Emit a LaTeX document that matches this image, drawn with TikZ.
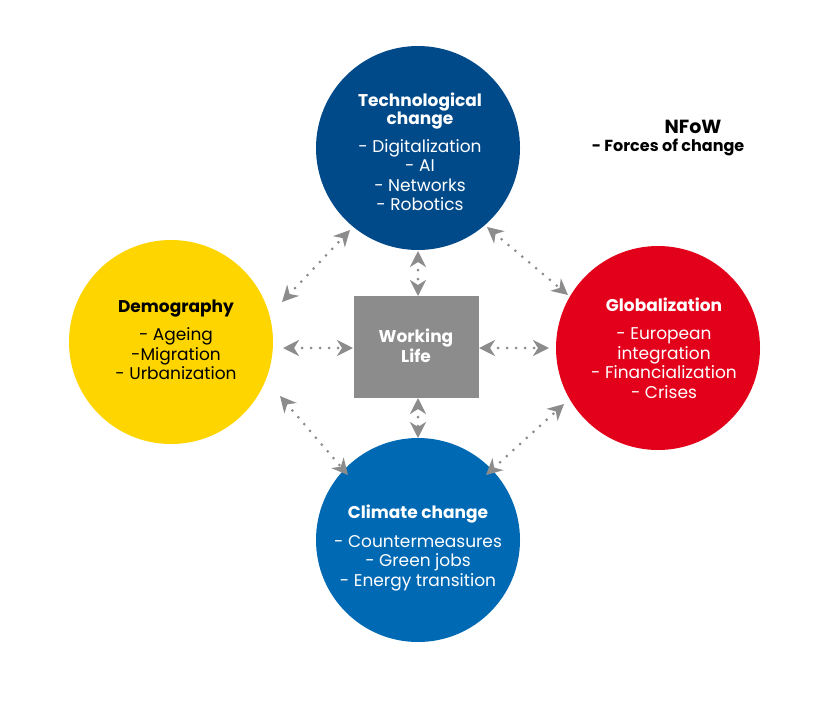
\documentclass[tikz,border=0pt]{standalone}
\usepackage{fontspec}
\setmainfont{Poppins}
\usetikzlibrary{arrows.meta}
\definecolor{cTop}{HTML}{004A8A}
\definecolor{cBot}{HTML}{0069B4}
\definecolor{cYel}{HTML}{FFD500}
\definecolor{cRed}{HTML}{E2001A}
\definecolor{cGr}{HTML}{8C8C8C}
\begin{document}
\begin{tikzpicture}[x=1pt,y=-1pt,
  circ/.style={circle,minimum size=204pt,inner sep=0pt},
  txt/.style={align=center,font=\fontsize{17}{19.5}\selectfont},
  link/.style={cGr,line width=3pt,dash pattern=on 0pt off 9pt,line cap=round,
     {Stealth[length=16pt,width=16pt,inset=5pt]}-{Stealth[length=16pt,width=16pt,inset=5pt]}}]
\useasboundingbox[fill=white] (0,0) rectangle (835,702);
\node[circ,fill=cTop] (top) at (418,148) {};
\node[circ,fill=cYel] (left) at (171,342) {};
\node[circ,fill=cRed] (right) at (658,348) {};
\node[circ,fill=cBot] (bot) at (418,540) {};
\node[fill=cGr,minimum width=125pt,minimum height=102pt] (wl) at (416,347) {};
\node[txt,white,font=\fontsize{17}{19.5}\selectfont\bfseries] (wlt) at (416,346) {Working\\Life};
\node[txt,white] (tt) at (420,152) {\textbf{Technological}\\[-1pt]\textbf{change}\\[8pt]- Digitalization\\- AI\\- Networks\\- Robotics};
\node[txt,black] (lt) at (176,340) {\textbf{Demography}\\[9pt]- Ageing\\-Migration\\- Urbanization};
\node[txt,white] (rt) at (664,348) {\textbf{Globalization}\\[9pt]- European\\integration\\- Financialization\\- Crises};
\node[txt,white] (bt) at (418,548) {\textbf{Climate change}\\[9pt]- Countermeasures\\- Green jobs\\- Energy transition};
\node[align=center,font=\fontsize{19}{20}\selectfont\bfseries] (nf) at (693,127) {NFoW};
\node[align=center,font=\fontsize{16}{20}\selectfont\bfseries] (fc) at (668,147) {- Forces of change};
\coordinate (a1) at (282,302); \coordinate (a2) at (350,230);
\coordinate (b1) at (283,348); \coordinate (b2) at (353,348);
\coordinate (c1) at (418,251); \coordinate (c2) at (418,296);
\coordinate (d1) at (479,348); \coordinate (d2) at (549,348);
\coordinate (e1) at (487,227); \coordinate (e2) at (568,295);
\coordinate (f1) at (280,396); \coordinate (f2) at (348,475);
\coordinate (g1) at (418,398); \coordinate (g2) at (418,438);
\coordinate (h1) at (486,475); \coordinate (h2) at (564,404);
\foreach \p/\q in {a1/a2,b1/b2,c1/c2,d1/d2,e1/e2,f1/f2,g1/g2,h1/h2}
  \draw[link] (\p) -- (\q);
\end{tikzpicture}
\end{document}
